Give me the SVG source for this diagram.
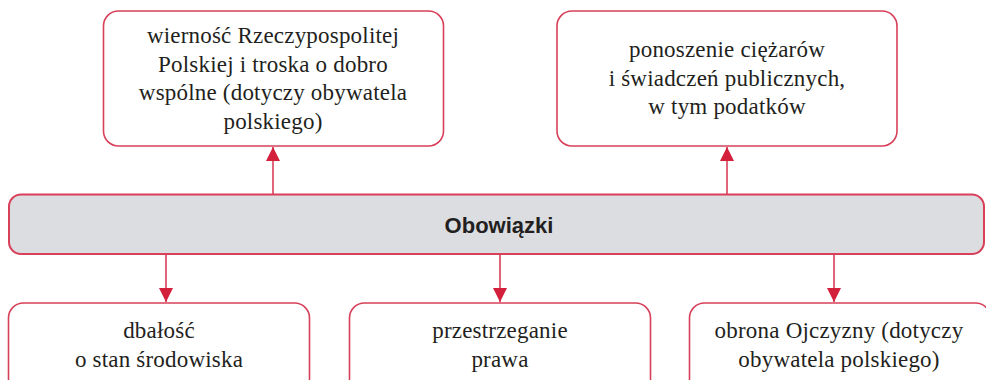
<svg xmlns="http://www.w3.org/2000/svg" width="986" height="380" viewBox="0 0 986 380">
<style>
.box{fill:#fff;stroke:#d8405a;stroke-width:1.6}
.bar{fill:#dcdde0;stroke:#d8405a;stroke-width:2}
.t{font-family:'Liberation Serif','DejaVu Serif',serif;font-size:23px;letter-spacing:0.2px;fill:#231f20;text-anchor:middle}
.h{font-family:'Liberation Sans',Arial,sans-serif;font-weight:bold;font-size:22px;fill:#231f20;text-anchor:middle}
.c{stroke:#d8405a;stroke-width:1.6;fill:none;marker-end:url(#ah)}
</style>
<defs>
<marker id="ah" markerUnits="userSpaceOnUse" markerWidth="14" markerHeight="16" viewBox="0 0 14 16" refX="14" refY="7" orient="auto">
<path d="M0,0 L14,7 L0,14 Z" fill="#d41f3c"/>
</marker>
</defs>
<g id="connectors">
<line class="c" x1="273" y1="194" x2="273" y2="147"/>
<line class="c" x1="727" y1="194" x2="727" y2="147"/>
<line class="c" x1="166" y1="254" x2="166" y2="302"/>
<line class="c" x1="500" y1="254" x2="500" y2="302"/>
<line class="c" x1="834" y1="254" x2="834" y2="302"/>
</g>
<g id="n-center">
<rect class="bar" x="9" y="194.5" width="975" height="59.5" rx="12"/>
<text class="h" x="499" y="233">Obowiązki</text>
</g>
<g id="n-wiernosc">
<rect class="box" x="103.5" y="11" width="340" height="135" rx="15"/>
<text class="t" x="273" y="43">wierność Rzeczypospolitej</text>
<text class="t" x="273" y="71.5">Polskiej i troska o dobro</text>
<text class="t" x="273" y="100">wspólne (dotyczy obywatela</text>
<text class="t" x="273" y="128.5">polskiego)</text>
</g>
<g id="n-ciezary">
<rect class="box" x="557" y="11" width="340" height="135" rx="15"/>
<text class="t" x="727" y="57">ponoszenie ciężarów</text>
<text class="t" x="727" y="85.5">i świadczeń publicznych,</text>
<text class="t" x="727" y="114">w tym podatków</text>
</g>
<g id="n-srodowisko">
<rect class="box" x="8.5" y="303" width="301" height="100" rx="15"/>
<text class="t" x="159" y="338">dbałość</text>
<text class="t" x="159" y="367">o stan środowiska</text>
</g>
<g id="n-prawo">
<rect class="box" x="349.5" y="303" width="301" height="100" rx="15"/>
<text class="t" x="500" y="338">przestrzeganie</text>
<text class="t" x="500" y="367">prawa</text>
</g>
<g id="n-obrona">
<rect class="box" x="689.5" y="303" width="301" height="100" rx="15"/>
<text class="t" x="839" y="338">obrona Ojczyzny (dotyczy</text>
<text class="t" x="839" y="367">obywatela polskiego)</text>
</g>
</svg>
